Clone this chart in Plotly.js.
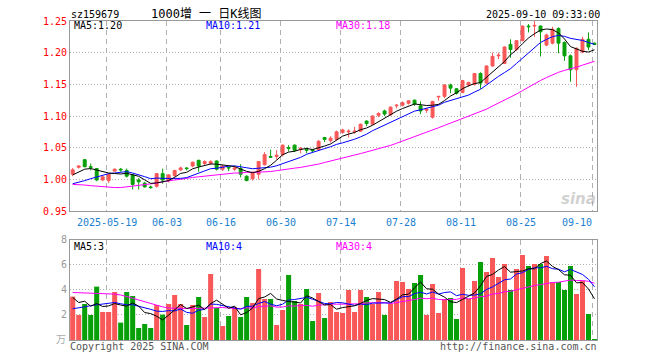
<!DOCTYPE html>
<html>
<head>
<meta charset="utf-8">
<script src="https://cdn.plot.ly/plotly-3.0.1.min.js"></script>
<style>html,body{margin:0;padding:0;background:#fff;}#chart{width:660px;height:360px;}</style>
</head>
<body>
<div id="chart"></div>
<script>
// ---- data ----
const dates = ["05-09","05-12","05-13","05-14","05-15","05-16","05-19","05-20","05-21","05-22","05-23","05-26","05-27","05-28","05-29","05-30",
"06-03","06-04","06-05","06-06","06-09","06-10","06-11","06-12","06-13","06-16","06-17","06-18","06-19","06-20","06-23","06-24","06-25","06-26","06-27","06-30",
"07-01","07-02","07-03","07-04","07-07","07-08","07-09","07-10","07-11","07-14","07-15","07-16","07-17","07-18","07-21","07-22","07-23","07-24","07-25","07-28","07-29","07-30","07-31",
"08-01","08-04","08-05","08-06","08-07","08-08","08-11","08-12","08-13","08-14","08-15","08-18","08-19","08-20","08-21","08-22","08-25","08-26","08-27","08-28","08-29",
"09-01","09-02","09-03","09-04","09-05","09-08","09-09","09-10"];

const open = [1.008,1.019,1.031,1.020,1.017,0.999,0.998,1.013,1.016,1.014,
1.007,0.999,0.994,0.988,0.989,1.009,0.998,1.006,1.015,1.018,
1.021,1.030,1.025,1.025,1.029,1.016,1.019,1.016,1.017,1.005,
1.001,1.008,1.023,1.036,1.036,1.039,1.050,1.054,1.047,1.047,
1.047,1.047,1.066,1.061,1.063,1.074,1.075,1.075,1.076,1.092,
1.087,1.101,1.108,1.102,1.116,1.117,1.120,1.125,1.116,1.109,
1.098,1.130,1.131,1.149,1.143,1.137,1.149,1.150,1.167,1.152,
1.179,1.195,1.183,1.213,1.205,1.219,1.242,1.242,1.242,1.212,
1.215,1.238,1.216,1.195,1.173,1.201,1.221,1.215];
const high = [1.018,1.022,1.032,1.025,1.018,1.005,1.009,1.017,1.018,1.017,
1.008,1.002,0.996,0.990,1.010,1.017,1.008,1.015,1.020,1.019,
1.028,1.031,1.030,1.030,1.030,1.022,1.020,1.021,1.024,1.006,
1.012,1.029,1.043,1.047,1.046,1.055,1.054,1.055,1.051,1.050,
1.048,1.062,1.067,1.068,1.077,1.080,1.079,1.083,1.088,1.093,
1.101,1.106,1.110,1.115,1.119,1.123,1.125,1.126,1.123,1.112,
1.124,1.131,1.150,1.151,1.144,1.157,1.154,1.168,1.169,1.180,
1.200,1.200,1.210,1.221,1.220,1.243,1.245,1.250,1.243,1.230,
1.241,1.240,1.218,1.197,1.208,1.225,1.232,1.216];
const low = [1.005,1.017,1.019,1.014,0.997,0.997,0.994,1.012,1.012,1.003,
0.984,0.984,0.987,0.985,0.987,0.993,0.995,1.004,1.013,1.014,
1.019,1.012,1.022,1.023,1.014,1.013,1.013,1.013,1.003,0.997,
0.998,1.000,1.022,1.034,1.031,1.036,1.044,1.043,1.041,1.041,
1.043,1.045,1.059,1.058,1.061,1.072,1.066,1.072,1.075,1.084,
1.086,1.098,1.100,1.100,1.112,1.115,1.118,1.116,1.103,1.105,
1.096,1.124,1.128,1.136,1.134,1.136,1.146,1.148,1.143,1.150,
1.178,1.190,1.182,1.192,1.203,1.218,1.232,1.225,1.194,1.210,
1.213,1.199,1.187,1.154,1.146,1.199,1.204,1.212];
const close = [1.015,1.021,1.020,1.019,0.999,1.004,1.008,1.016,1.015,1.005,
0.992,0.996,0.988,0.987,1.009,0.999,1.007,1.014,1.018,1.017,
1.027,1.021,1.028,1.028,1.016,1.021,1.018,1.018,1.008,0.998,
1.011,1.028,1.039,1.035,1.038,1.054,1.049,1.046,1.049,1.046,
1.045,1.060,1.063,1.065,1.075,1.078,1.076,1.076,1.087,1.088,
1.100,1.104,1.103,1.114,1.117,1.121,1.124,1.119,1.108,1.111,
1.123,1.131,1.149,1.144,1.136,1.156,1.153,1.167,1.152,1.179,
1.194,1.196,1.209,1.205,1.219,1.242,1.241,1.243,1.233,1.228,
1.237,1.215,1.195,1.173,1.207,1.221,1.209,1.213];
const volume = [3.47,2.0,2.88,2.0,4.27,2.24,2.24,3.84,1.39,3.84,
3.52,0.96,1.28,0.96,2.8,2.03,2.88,3.6,2.88,1.2,
2.8,3.44,1.84,5.28,2.56,1.12,1.92,2.64,1.84,3.44,
2.96,5.68,3.28,3.28,1.2,2.4,5.2,3.12,2.88,4.08,
1.52,3.76,1.76,3.04,2.24,2.16,4.0,2.24,4.0,3.44,
2.88,3.84,2.0,2.88,4.72,4.64,4.08,4.56,5.2,2.0,
4.48,2.16,3.28,3.36,1.68,5.76,3.28,4.72,6.24,5.44,
6.56,5.04,6.08,4.0,5.68,6.8,5.92,6.08,6.08,6.72,
4.64,4.64,4.0,5.92,3.68,4.72,2.08,0.08];

// moving-average values at the left edge (history before the first bar)
const ma5Head = [1.007,1.012,1.016,1.017];
const ma10Head = [0.993,0.995,0.998,1.001,1.004,1.007,1.009,1.010,1.011];
const ma30Head = [0.992,0.992,0.991,0.990,0.989,0.988,0.987,0.987,0.987,0.988,0.989,0.990,0.991,0.992,0.994,0.996,0.998,0.999,1.000,1.002,1.003,1.004,1.005,1.007,1.008,1.009,1.009,1.010,1.010];
const volMa5Head = [3.4,3.0,3.1,2.7];
const volMa10Head = [2.5,2.55,2.65,2.75,2.8,2.85,2.95,3.0,2.9];
const volMa30Head = [3.8,3.78,3.76,3.75,3.74,3.73,3.7,3.67,3.6,3.5,3.35,3.2,3.05,2.9,2.75,2.65,2.55,2.53,2.52,2.52,2.52,2.53,2.55,2.57,2.6,2.6,2.55,2.5,2.5];

const priceTicks = [0.95,1.00,1.05,1.10,1.15,1.20,1.25];
const priceTickText = ["0.95","1.00","1.05","1.10","1.15","1.20","1.25"];
const volTicks = [2,4,6,8];
const volTickText = ["2","4","6","8"];
const dateTickDates = ["05-19","06-03","06-16","06-30","07-14","07-28","08-11","08-25","09-10"];
const dateTickText = ["2025-05-19","06-03","06-16","06-30","07-14","07-28","08-11","08-25","09-10"];

const titleCode = "sz159679";
const titleName = "1000增 一 日K线图";
const stamp = "2025-09-10 09:33:00";
const maPriceLabels = ["MA5:1.20","MA10:1.21","MA30:1.18"];
const maVolLabels = ["MA5:3","MA10:4","MA30:4"];
const maColors = ["#000000","#0000ff","#ff00ff"];

// ---- build ----
const RED = "#f95858", GREEN = "#08a008";
const x = dates.map((d, i) => i);
function movingAvg(vals, n, head) {
  return vals.map((v, i) => {
    if (i < n - 1) return head[i];
    let s = 0; for (let k = i - n + 1; k <= i; k++) s += vals[k];
    return s / n;
  });
}
const ma5 = movingAvg(close, 5, ma5Head), ma10 = movingAvg(close, 10, ma10Head), ma30 = movingAvg(close, 30, ma30Head);
const vma5 = movingAvg(volume, 5, volMa5Head), vma10 = movingAvg(volume, 10, volMa10Head), vma30 = movingAvg(volume, 30, volMa30Head);
const volColors = close.map((c, i) => c >= open[i] ? RED : GREEN);

const gridPos = dateTickDates.map(d => dates.indexOf(d) - 0.33);
const MONO = "DejaVu Sans Mono, Noto Sans CJK SC, monospace";

const traces = [
  {type:"scatter", mode:"lines", x:x, y:ma30, line:{color:maColors[2], width:1}, hoverinfo:"skip", xaxis:"x", yaxis:"y"},
  {type:"scatter", mode:"lines", x:x, y:ma10, line:{color:maColors[1], width:1}, hoverinfo:"skip", xaxis:"x", yaxis:"y"},
  {type:"scatter", mode:"lines", x:x, y:ma5, line:{color:maColors[0], width:1}, hoverinfo:"skip", xaxis:"x", yaxis:"y"},
  {type:"candlestick", x:x, open:open, high:high, low:low, close:close, xaxis:"x", yaxis:"y",
   increasing:{line:{color:RED, width:1}, fillcolor:RED},
   decreasing:{line:{color:GREEN, width:1}, fillcolor:GREEN},
   whiskerwidth:0, hoverinfo:"skip"},
  {type:"bar", x:x, y:volume, marker:{color:volColors, line:{width:0}}, width:0.84, xaxis:"x2", yaxis:"y2", hoverinfo:"skip"},
  {type:"scatter", mode:"lines", x:x, y:vma30, line:{color:maColors[2], width:1}, hoverinfo:"skip", xaxis:"x2", yaxis:"y2"},
  {type:"scatter", mode:"lines", x:x, y:vma10, line:{color:maColors[1], width:1}, hoverinfo:"skip", xaxis:"x2", yaxis:"y2"},
  {type:"scatter", mode:"lines", x:x, y:vma5, line:{color:maColors[0], width:1}, hoverinfo:"skip", xaxis:"x2", yaxis:"y2"}
];

const XR = [-0.45, 87.42];
const px = p => (p - 70) / 527;      // pixel -> paper x
const py = p => (340 - p) / 319;     // pixel -> paper y
const ann = [];
function txt(t, xpx, ypx, color, size, anchor) {
  ann.push({text:t, xref:"paper", yref:"paper", x:px(xpx), y:py(ypx), xanchor:anchor||"left", yanchor:"middle",
            showarrow:false, font:{family:MONO, size:size||10, color:color}, borderpad:0});
}
txt(titleCode, 70, 14, "#000", 10);
txt(titleName, 150, 14, "#000", 12);
txt(stamp, 601, 14, "#000", 10, "right");
const maPx = [73, 205, 335];
maPriceLabels.forEach((t, i) => txt(t, maPx[i], 26, maColors[i], 10));
maVolLabels.forEach((t, i) => txt(t, maPx[i], 246, maColors[i], 10));
txt("Copyright 2025 SINA.COM", 69, 346, "#555", 10);
txt("http://finance.sina.com.cn", 598, 346, "#555", 10, "right");
txt("万", 67, 339, "#aaa", 10, "right");
dateTickText.forEach((t, i) => {
  const last = i === dateTickText.length - 1;
  ann.push({text:t, xref:"x", yref:"paper", x:gridPos[i], y:py(222), xanchor:last ? "right" : "center", yanchor:"middle",
            showarrow:false, font:{family:MONO, size:10, color:"#1a7fd0"}, borderpad:0});
});
ann.push({text:"<b><i>sina</i></b>", xref:"paper", yref:"paper", x:px(597), y:py(199), xanchor:"right", yanchor:"middle",
          showarrow:false, font:{family:"DejaVu Sans", size:15, color:"rgba(170,170,170,0.55)"}, borderpad:0});

const gridX = {range:XR, tickvals:gridPos, showticklabels:false, ticks:"", showgrid:true, gridcolor:"#b0b0b0", griddash:"5px,4px", gridwidth:1,
               showline:true, mirror:true, linecolor:"#999", linewidth:1, zeroline:false, fixedrange:true};
const layout = {
  width:660, height:360, margin:{l:70, r:63, t:21, b:20}, paper_bgcolor:"#fff", plot_bgcolor:"#fff", showlegend:false,
  xaxis:Object.assign({}, gridX, {anchor:"y", rangeslider:{visible:false}}),
  xaxis2:Object.assign({}, gridX, {anchor:"y2"}),
  yaxis:{domain:[0.4044, 1], range:[0.95, 1.25], tickvals:priceTicks, ticktext:priceTickText, ticks:"",
         tickfont:{family:MONO, size:10, color:"#ff0000"}, showgrid:true, gridcolor:"#b0b0b0", griddash:"1px,2px",
         showline:true, mirror:true, linecolor:"#999", linewidth:1, zeroline:false, fixedrange:true},
  yaxis2:{domain:[0, 0.3135], range:[0, 8], tickvals:volTicks, ticktext:volTickText, ticks:"",
          tickfont:{family:MONO, size:10, color:"#999"}, showgrid:true, gridcolor:"#b0b0b0", griddash:"1px,2px",
          showline:true, mirror:true, linecolor:"#999", linewidth:1, zeroline:false, fixedrange:true},
  annotations:ann,
  bargap:0.16
};
Plotly.newPlot("chart", traces, layout, {displayModeBar:false, staticPlot:true});
</script>
</body>
</html>
